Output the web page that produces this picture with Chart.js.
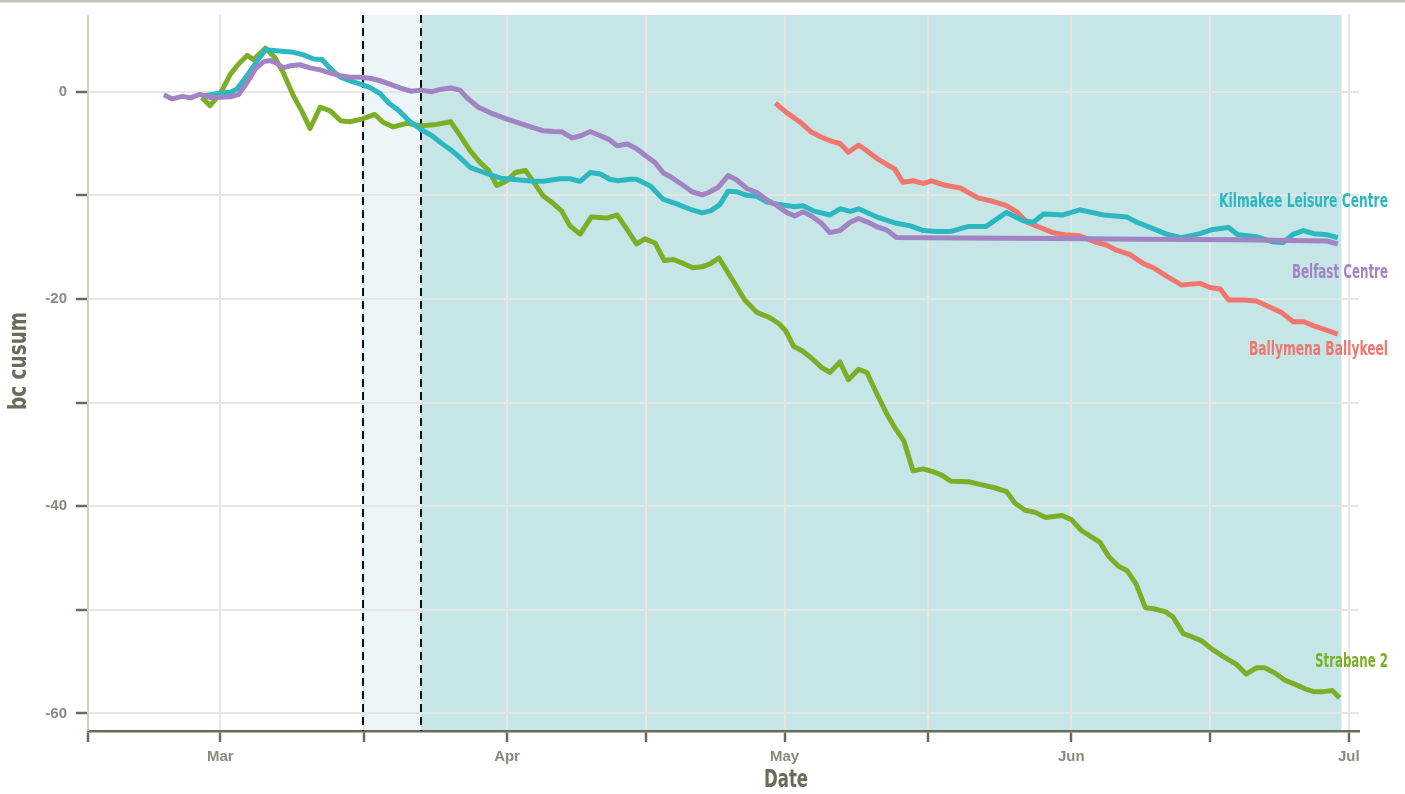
<!DOCTYPE html>
<html lang="en">
<head>
    <meta charset="UTF-8">
    <title>bc cusum by site</title>
    <script src="https://cdn.jsdelivr.net/npm/chart.js"></script>
    <style>
        body {
            margin: 0;
            padding: 0;
            background: #ffffff;
        }
        canvas {
            display: block;
        }
    </style>
</head>
<body>
    <canvas id="cusumChart" width="1405" height="794"></canvas>

    <script>
        // x values are days counted from 1 March
        const xMin = -14.3;
        const xMax = 123.1;
        const monthTicks = [0, 31, 61, 92, 122];
        const monthLabels = ['Mar', 'Apr', 'May', 'Jun', 'Jul'];
        const allTicks = [xMin, 0, 15.5, 31, 46, 61, 76.5, 92, 107, 122];
        const yTicks = [-60, -50, -40, -30, -20, -10, 0];

        // shaded periods (start, end) in days
        const lightPeriod = [15.4, 21.7];
        const darkPeriod = [21.7, 121.2];

        const siteNames = ['Belfast Centre', 'Kilmakee Leisure Centre', 'Strabane 2', 'Ballymena Ballykeel'];

        const belfastDays = [-6.1, -5.2, -4.1, -3.2, -2.2, -1.1, 0, 1.1, 2.0, 2.9, 3.8, 4.7, 5.4, 6.1, 6.8, 7.6, 8.6, 9.7, 10.8, 11.9,
            13.0, 14.0, 15.1, 16.2, 17.3, 18.4, 19.5, 20.6, 21.6, 22.9, 23.8, 24.9, 25.9, 26.8, 27.9, 29.5, 31.0, 32.4, 33.9, 34.9,
            36.0, 36.9, 38.0, 38.9, 40.0, 41.1, 42.0, 42.9, 44.0, 45.0, 46.1, 47.0, 47.9, 48.8, 50.1, 51.0, 52.1, 52.8, 53.8, 54.9,
            55.8, 56.9, 58.0, 59.1, 60.2, 61.3, 62.1, 63.0, 63.9, 65.0, 65.9, 67.0, 68.1, 69.0, 69.9, 71.0, 72.0, 73.1,
            80, 90, 100, 110, 119.6, 120.8];
        const belfastCusum = [-0.3, -0.7, -0.45, -0.6, -0.25, -0.55, -0.55, -0.5, -0.25, 0.9, 2.2, 2.9, 3.0, 2.75, 2.3, 2.5, 2.6, 2.3, 2.1, 1.8,
            1.55, 1.4, 1.4, 1.3, 1.05, 0.7, 0.35, 0.05, 0.15, 0.0, 0.22, 0.35, 0.15, -0.7, -1.5, -2.15, -2.64, -3.06, -3.5, -3.77,
            -3.84, -3.86, -4.47, -4.28, -3.84, -4.25, -4.6, -5.22, -5.05, -5.5, -6.25, -6.83, -7.85, -8.28, -9.08, -9.66, -9.95, -9.73, -9.25, -8.1,
            -8.5, -9.34, -9.73, -10.46, -11.0, -11.7, -12.0, -11.6, -12.0, -12.7, -13.6, -13.4, -12.6, -12.24, -12.56, -13.04, -13.33, -14.08,
            -14.12, -14.18, -14.23, -14.3, -14.4, -14.7];

        const kilmakeeDays = [-1.8, 0, 1.1, 1.8, 2.9, 4.0, 4.9, 6.1, 7.9, 9.0, 10.1, 11.0, 12.1, 13.0, 14.0, 15.1, 16.2, 17.3, 18.2, 19.4,
            20.4, 21.6, 22.9, 23.8, 24.9, 25.9, 27.0, 28.5, 30.3, 32.1, 33.9, 34.9, 36.7, 37.8, 38.9, 40.0, 41.1, 42.1, 43.0, 44.3,
            45.0, 46.5, 47.9, 49.4, 50.8, 52.1, 53.0, 54.0, 54.9, 55.8, 56.9, 58.0, 59.1, 60.2, 61.4, 62.0, 63.0, 64.1, 65.9, 67.0,
            68.1, 69.0, 71.0, 73.1, 74.6, 76.0, 77.5, 78.9, 80.9, 82.8, 85.0, 86.8, 87.9, 89.0, 91.1, 92.9, 95.5, 98.0, 99.1, 100.5,
            102.3, 103.9, 105.9, 107.3, 109.0, 110.0, 112.0, 113.8, 114.9, 116.0, 117.1, 118.2, 119.6, 120.8];
        const kilmakeeCusum = [-0.4, -0.15, -0.05, 0.25, 1.55, 3.0, 4.05, 3.95, 3.8, 3.55, 3.15, 3.1, 2.05, 1.4, 1.05, 0.75, 0.4, -0.2, -1.1, -1.9,
            -2.8, -3.6, -4.25, -4.9, -5.6, -6.35, -7.3, -7.8, -8.35, -8.5, -8.65, -8.65, -8.4, -8.4, -8.65, -7.8, -7.95, -8.45, -8.6, -8.45,
            -8.45, -9.1, -10.4, -10.85, -11.35, -11.7, -11.5, -10.9, -9.6, -9.65, -10.0, -10.1, -10.65, -10.85, -11.0, -11.1, -11.0, -11.5, -11.9, -11.3,
            -11.55, -11.3, -12.1, -12.7, -12.95, -13.4, -13.5, -13.5, -13.0, -13.0, -11.65, -12.45, -12.6, -11.8, -11.9, -11.4, -11.9, -12.1, -12.6, -13.1,
            -13.75, -14.1, -13.7, -13.3, -13.1, -13.8, -14.0, -14.5, -14.55, -13.75, -13.4, -13.7, -13.8, -14.1];

        const strabaneDays = [-2.0, -1.1, 0, 1.1, 2.0, 2.9, 3.6, 4.9, 5.9, 6.8, 7.9, 8.8, 9.7, 10.8, 11.9, 13.0, 14.0, 15.3, 16.7, 17.6,
            18.7, 20.2, 21.6, 23.1, 24.9, 25.9, 27.0, 28.1, 29.0, 29.9, 31.0, 31.9, 33.0, 33.9, 34.9, 36.0, 36.9, 37.8, 38.9, 40.1,
            41.8, 42.9, 43.9, 45.0, 45.9, 47.0, 48.0, 49.0, 50.1, 51.1, 52.1, 53.0, 53.9, 55.4, 56.7, 58.0, 59.4, 60.4, 61.1, 62.0,
            62.9, 63.9, 65.0, 65.9, 67.0, 67.9, 69.0, 69.9, 71.0, 72.0, 72.9, 73.9, 74.9, 76.0, 77.1, 78.0, 79.0, 80.9, 82.1, 83.6,
            85.0, 85.9, 87.0, 88.1, 89.2, 91.0, 92.0, 93.1, 95.1, 96.0, 97.1, 98.0, 99.0, 100.0, 100.9, 102.2, 103.0, 104.1, 105.0, 106.1,
            107.2, 108.4, 109.9, 110.9, 112.0, 112.9, 114.0, 115.1, 116.2, 117.2, 118.2, 119.2, 120.2, 121.0];
        const strabaneCusum = [-0.55, -1.35, -0.2, 1.7, 2.7, 3.5, 3.1, 4.2, 3.3, 1.85, -0.4, -1.85, -3.55, -1.5, -1.85, -2.8, -2.9, -2.65, -2.2, -2.95,
            -3.4, -3.05, -3.3, -3.2, -2.9, -4.2, -5.7, -6.85, -7.6, -9.05, -8.6, -7.8, -7.6, -8.75, -10.05, -10.8, -11.5, -12.95, -13.75, -12.1,
            -12.2, -11.9, -13.2, -14.7, -14.2, -14.6, -16.3, -16.2, -16.6, -17.0, -16.9, -16.6, -16.05, -18.2, -20.1, -21.3, -21.8, -22.4, -23.05, -24.6,
            -25.0, -25.7, -26.6, -27.1, -26.1, -27.8, -26.8, -27.1, -29.2, -31.0, -32.4, -33.7, -36.6, -36.4, -36.7, -37.0, -37.6, -37.65, -37.9, -38.2,
            -38.6, -39.7, -40.4, -40.6, -41.1, -40.9, -41.3, -42.35, -43.5, -44.8, -45.8, -46.2, -47.5, -49.8, -49.9, -50.2, -50.7, -52.3, -52.6, -53.0,
            -53.8, -54.5, -55.3, -56.2, -55.6, -55.6, -56.1, -56.8, -57.2, -57.6, -57.9, -57.9, -57.8, -58.5];

        const ballymenaDays = [60.0, 61.2, 62.7, 63.9, 65.0, 66.1, 67.0, 67.9, 69.0, 69.9, 71.0, 72.0, 72.9, 73.8, 74.9, 76.0, 76.9, 78.2, 80.0, 81.9,
            83.6, 85.0, 86.1, 87.2, 88.6, 90.0, 91.3, 92.9, 94.7, 95.8, 96.9, 98.3, 99.8, 100.9, 102.3, 103.9, 105.9, 107.0, 108.1, 109.0,
            110.6, 112.0, 113.5, 114.7, 116.0, 117.1, 118.2, 119.2, 120.8];
        const ballymenaCusum = [-1.1, -2.0, -2.95, -3.9, -4.4, -4.8, -5.0, -5.85, -5.15, -5.7, -6.45, -7.0, -7.45, -8.75, -8.6, -8.85, -8.6, -9.0, -9.3, -10.25,
            -10.6, -11.0, -11.6, -12.6, -13.1, -13.6, -13.8, -13.9, -14.55, -14.8, -15.3, -15.7, -16.6, -17.0, -17.8, -18.65, -18.5, -18.9, -19.05, -20.1,
            -20.1, -20.2, -20.8, -21.3, -22.2, -22.2, -22.6, -22.9, -23.4];

        const FONT = "'Liberation Sans Narrow', 'DejaVu Sans Condensed', 'Open Sans', sans-serif";
        const TICK_FONT = "'Liberation Sans', Arial, sans-serif";
        const AXIS_DARK = '#6b6b5b';
        const TICK_TEXT = '#858d7e';

        function toPoints(days, values) {
            return days.map((d, i) => ({ x: d, y: values[i] }));
        }

        // labels at the right end of each line
        const endLabels = [
            { text: 'Kilmakee Leisure Centre', color: '#2db7c0', y: 202, width: 169 },
            { text: 'Belfast Centre', color: '#a283c3', y: 273, width: 96 },
            { text: 'Ballymena Ballykeel', color: '#f1766e', y: 350, width: 139 },
            { text: 'Strabane 2', color: '#7cae28', y: 662, width: 73 }
        ];

        const backdrop = {
            id: 'backdrop',
            beforeDraw(chart) {
                const { ctx, chartArea, scales } = chart;
                const x = scales.x;
                ctx.save();
                ctx.fillStyle = '#c2c3b5';
                ctx.fillRect(0, 0, chart.width, 2.5);
                ctx.fillStyle = '#ecf6f8';
                ctx.fillRect(x.getPixelForValue(lightPeriod[0]), chartArea.top,
                    x.getPixelForValue(lightPeriod[1]) - x.getPixelForValue(lightPeriod[0]), chartArea.bottom - chartArea.top);
                ctx.fillStyle = '#c5e5e6';
                ctx.fillRect(x.getPixelForValue(darkPeriod[0]), chartArea.top,
                    x.getPixelForValue(darkPeriod[1]) - x.getPixelForValue(darkPeriod[0]), chartArea.bottom - chartArea.top);
                ctx.restore();
            },
            beforeDatasetsDraw(chart) {
                const { ctx, chartArea, scales } = chart;
                ctx.save();
                // light y axis line
                ctx.strokeStyle = '#cfd1c5';
                ctx.lineWidth = 2;
                ctx.beginPath();
                ctx.moveTo(chartArea.left, chartArea.top);
                ctx.lineTo(chartArea.left, chartArea.bottom);
                ctx.stroke();
                // dashed boundaries of the light period
                ctx.strokeStyle = '#111111';
                ctx.setLineDash([8, 5]);
                lightPeriod.forEach(v => {
                    const px = Math.round(scales.x.getPixelForValue(v));
                    ctx.beginPath();
                    ctx.moveTo(px, chartArea.top);
                    ctx.lineTo(px, chartArea.bottom);
                    ctx.stroke();
                });
                ctx.restore();
            },
            afterDraw(chart) {
                const { ctx } = chart;
                ctx.save();
                ctx.textAlign = 'right';
                ctx.textBaseline = 'middle';
                ctx.font = 'bold 20px ' + FONT;
                endLabels.forEach(l => {
                    ctx.fillStyle = l.color;
                    ctx.fillText(l.text, 1388, l.y, l.width);
                });
                // axis titles
                ctx.fillStyle = AXIS_DARK;
                ctx.font = 'bold 25px ' + FONT;
                ctx.textAlign = 'center';
                ctx.fillText('Date', 786, 780, 44);
                ctx.translate(19, 361);
                ctx.rotate(-Math.PI / 2);
                ctx.fillText('bc cusum', 0, 0, 98);
                ctx.restore();
            }
        };

        new Chart(document.getElementById('cusumChart'), {
            type: 'line',
            data: {
                datasets: [
                    { label: siteNames[0], data: toPoints(belfastDays, belfastCusum), borderColor: '#a283c3' },
                    { label: siteNames[1], data: toPoints(kilmakeeDays, kilmakeeCusum), borderColor: '#2db7c0' },
                    { label: siteNames[2], data: toPoints(strabaneDays, strabaneCusum), borderColor: '#7cae28' },
                    { label: siteNames[3], data: toPoints(ballymenaDays, ballymenaCusum), borderColor: '#f1766e' }
                ]
            },
            options: {
                responsive: false,
                animation: false,
                devicePixelRatio: 1,
                layout: { padding: { top: 15, right: 46, left: 0, bottom: 0 } },
                elements: {
                    line: { borderWidth: 5, tension: 0, borderJoinStyle: 'round', borderCapStyle: 'butt' },
                    point: { radius: 0 }
                },
                plugins: {
                    legend: { display: false },
                    tooltip: { enabled: false }
                },
                scales: {
                    x: {
                        type: 'linear',
                        min: xMin,
                        max: xMax,
                        afterBuildTicks: scale => { scale.ticks = allTicks.map(v => ({ value: v })); },
                        afterFit: scale => {
                            scale.height = 63;
                            scale.paddingLeft = 0;
                            scale.paddingRight = 0;
                        },
                        ticks: {
                            autoSkip: false,
                            maxRotation: 0,
                            padding: 6,
                            color: TICK_TEXT,
                            font: { family: TICK_FONT, size: 15, weight: 'bold' },
                            callback: value => {
                                const i = monthTicks.indexOf(value);
                                return i >= 0 ? monthLabels[i] : '';
                            }
                        },
                        grid: {
                            color: '#e6e6e6',
                            lineWidth: 2,
                            tickLength: 11,
                            tickWidth: 2.5,
                            tickColor: AXIS_DARK
                        },
                        border: { color: AXIS_DARK, width: 2.5 }
                    },
                    y: {
                        type: 'linear',
                        min: -61.7,
                        max: 7.4,
                        afterBuildTicks: scale => { scale.ticks = yTicks.map(v => ({ value: v })); },
                        afterFit: scale => {
                            scale.width = 88;
                            scale.paddingTop = 0;
                            scale.paddingBottom = 0;
                        },
                        ticks: {
                            padding: 9,
                            color: TICK_TEXT,
                            font: { family: TICK_FONT, size: 15, weight: 'bold' },
                            callback: value => (value % 20 === 0 ? String(value) : '')
                        },
                        grid: {
                            color: '#e6e6e6',
                            lineWidth: 2,
                            tickLength: 12,
                            tickWidth: 2.5,
                            tickColor: AXIS_DARK
                        },
                        border: { display: false }
                    }
                }
            },
            plugins: [backdrop]
        });
    </script>
</body>
</html>
